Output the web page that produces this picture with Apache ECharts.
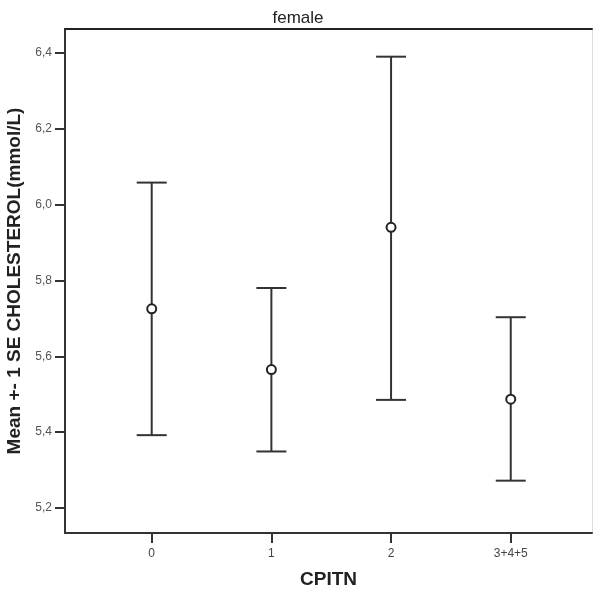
<!DOCTYPE html>
<html>
<head>
<meta charset="utf-8">
<script src="https://cdn.jsdelivr.net/npm/echarts@6/dist/echarts.min.js"></script>
<style>html,body{margin:0;padding:0;background:#fff;}#c{width:595px;height:592px;}</style>
</head>
<body>
<div id="c"></div>
<script>
var categories = ['0', '1', '2', '3+4+5'];
var means = [5.725, 5.565, 5.940, 5.487];
var upper = [6.058, 5.780, 6.390, 5.703];
var lower = [5.392, 5.349, 5.485, 5.272];
var yTicks = [5.2, 5.4, 5.6, 5.8, 6.0, 6.2, 6.4];
var xTicks = [0, 1, 2, 3];

var chart = echarts.init(document.getElementById('c'), null, {renderer: 'canvas'});
var errData = categories.map(function (c, i) { return [i, lower[i], upper[i]]; });
var meanData = categories.map(function (c, i) { return [i, means[i]]; });
var fmtY = function (v) { return v.toFixed(1).replace('.', ','); };

var option = {
  animation: false,
  backgroundColor: '#fff',
  title: {
    text: 'female', left: 293, top: 5, textAlign: 'center',
    textStyle: {fontFamily: 'Liberation Sans, Arial', fontSize: 17, fontWeight: 'normal', color: '#222'}
  },
  grid: {left: 65, right: 3, top: 29, bottom: 59, containLabel: false, outerBoundsMode: 'none'},
  xAxis: [{
    type: 'value', min: -0.7245, max: 3.679,
    name: 'CPITN', nameLocation: 'middle', nameGap: 37,
    nameTextStyle: {fontFamily: 'Liberation Sans, Arial', fontSize: 19, fontWeight: 'bold', color: '#222'},
    splitLine: {show: false},
    axisLine: {show: true, onZero: false, lineStyle: {color: '#333', width: 2}},
    axisTick: {show: true, length: 10, customValues: xTicks, lineStyle: {color: '#333', width: 2}},
    axisLabel: {customValues: xTicks, margin: 15, fontFamily: 'Liberation Sans, Arial', fontSize: 12, color: '#444',
      formatter: function (v) { return categories[Math.round(v)]; }}
  }, {
    type: 'value', position: 'top', min: -0.7245, max: 3.679,
    splitLine: {show: false},
    axisLine: {show: true, onZero: false, lineStyle: {color: '#222', width: 2}},
    axisTick: {show: false}, axisLabel: {show: false}
  }],
  yAxis: [{
    type: 'value', min: 5.134, max: 6.463,
    name: 'Mean +- 1 SE CHOLESTEROL(mmol/L)', nameLocation: 'middle', nameGap: 34, nameRotate: 90,
    nameTextStyle: {fontFamily: 'Liberation Sans, Arial', fontSize: 19, fontWeight: 'bold', color: '#222'},
    splitLine: {show: false},
    axisLine: {show: true, onZero: false, lineStyle: {color: '#333', width: 2}},
    axisTick: {show: true, length: 10, customValues: yTicks, lineStyle: {color: '#333', width: 2}},
    axisLabel: {customValues: yTicks, margin: 13, fontFamily: 'Liberation Sans, Arial', fontSize: 12, color: '#555', formatter: fmtY}
  }, {
    type: 'value', position: 'right', min: 5.134, max: 6.463,
    splitLine: {show: false},
    axisLine: {show: true, onZero: false, lineStyle: {color: '#ddd', width: 1}},
    axisTick: {show: false}, axisLabel: {show: false}
  }],
  series: [{
    type: 'custom',
    data: errData,
    renderItem: function (params, api) {
      var x = api.value(0);
      var lo = api.coord([x, api.value(1)]);
      var hi = api.coord([x, api.value(2)]);
      var hw = 15;
      var st = {stroke: '#333', lineWidth: 2};
      return {
        type: 'group',
        children: [
          {type: 'line', shape: {x1: hi[0], y1: hi[1], x2: lo[0], y2: lo[1]}, style: st},
          {type: 'line', shape: {x1: hi[0] - hw, y1: hi[1], x2: hi[0] + hw, y2: hi[1]}, style: st},
          {type: 'line', shape: {x1: lo[0] - hw, y1: lo[1], x2: lo[0] + hw, y2: lo[1]}, style: st}
        ]
      };
    },
    z: 2
  }, {
    type: 'scatter',
    data: meanData,
    symbol: 'circle',
    symbolSize: 9,
    itemStyle: {color: '#fff', borderColor: '#222', borderWidth: 2, opacity: 1},
    z: 3
  }]
};
chart.setOption(option);
</script>
</body>
</html>
